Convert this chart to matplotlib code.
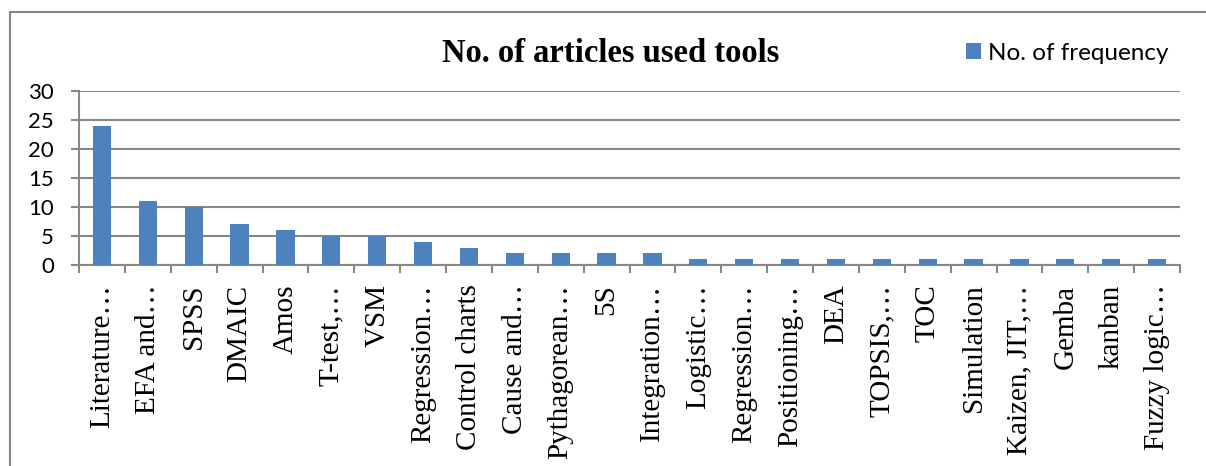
import matplotlib
matplotlib.use("Agg")
import matplotlib.pyplot as plt
from matplotlib.patches import Rectangle, Patch
import numpy as np

tools = ["Literature…", "EFA and…", "SPSS", "DMAIC", "Amos", "T-test,…", "VSM",
         "Regression…", "Control charts", "Cause and…", "Pythagorean…", "5S",
         "Integration…", "Logistic…", "Regression…", "Positioning…", "DEA",
         "TOPSIS,…", "TOC", "Simulation", "Kaizen, JIT,…", "Gemba", "kanban",
         "Fuzzy logic…"]
frequency = [24, 11, 10, 7, 6, 5, 5, 4, 3, 2, 2, 2, 2, 1, 1, 1, 1, 1, 1, 1, 1, 1, 1, 1]
y_ticks = [0, 5, 10, 15, 20, 25, 30]

W, H = 1206, 466
fig = plt.figure(figsize=(W / 100, H / 100), dpi=100)
grey = "#878787"

# chart-area border (runs off the right and bottom edges)
fig.add_artist(Rectangle((10 / W, -0.05), 1.1, (H - 12) / H + 0.05,
                         transform=fig.transFigure, fill=False,
                         edgecolor=grey, linewidth=1.5))

ax = fig.add_axes([79 / W, 1 - 265 / H, (1180 - 79) / W, (265 - 91) / H])
x = np.arange(len(tools))
ax.bar(x, frequency, width=0.4, color="#4F81BD", zorder=3,
       label="No. of frequency")

ax.set_xlim(-0.5, len(tools) - 0.5)
ax.set_ylim(0, 30)
ax.set_yticks(y_ticks)
ax.set_yticklabels([str(v) for v in y_ticks], fontfamily="Lato", fontsize=16)
ax.yaxis.grid(True, color=grey, linewidth=1.5, zorder=0)
ax.set_axisbelow(True)

for side in ("top", "right"):
    ax.spines[side].set_visible(False)
for side in ("left", "bottom"):
    ax.spines[side].set_color(grey)
    ax.spines[side].set_linewidth(1.5)

ax.tick_params(axis="y", length=6, width=1.5, color=grey, pad=12)
ax.set_xticks(x)
ax.set_xticklabels(tools, rotation=90, fontfamily="Liberation Serif",
                   fontsize=21, ha="center", va="top")
ax.tick_params(axis="x", which="major", length=0, pad=14)
ax.set_xticks(np.arange(len(tools) + 1) - 0.5, minor=True)
ax.tick_params(axis="x", which="minor", length=6, width=1.5, color=grey)

fig.text(611 / W, 1 - 54 / H, "No. of articles used tools",
         fontfamily="Liberation Serif", fontweight="bold", fontsize=23.5,
         ha="center", va="center")

fig.legend(handles=[Patch(facecolor="#4F81BD", label="No. of frequency")],
           loc="center left", bbox_to_anchor=(966 / W, 1 - 53 / H),
           frameon=False, prop={"family": "Lato", "size": 17.5},
           handlelength=0.6, handleheight=0.6, handletextpad=0.3,
           borderpad=0, borderaxespad=0)

fig.savefig("out.png", dpi=100)
